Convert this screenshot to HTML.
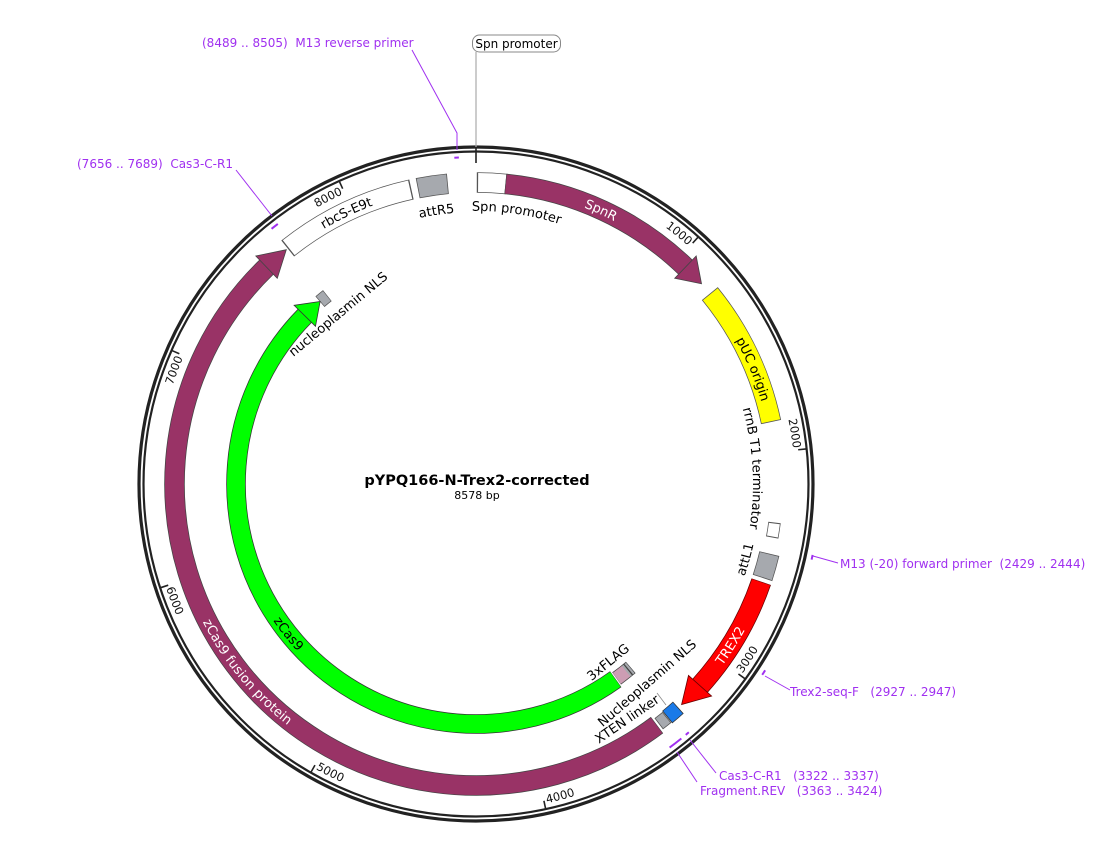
<!DOCTYPE html>
<html><head><meta charset="utf-8"><style>
html,body{margin:0;padding:0;background:#fff;overflow:hidden;width:1104px;height:862px;}
svg{display:block;font-family:"DejaVu Sans","Liberation Sans",sans-serif;}
text{white-space:pre;}
</style></head><body>
<svg width="1104" height="862" viewBox="0 0 1104 862" xmlns="http://www.w3.org/2000/svg">
<defs>
<path id="cw301" d="M174.5,484 A301.5,301.5 0 1 1 777.5,484 A301.5,301.5 0 1 1 174.5,484"/>
<path id="ccw301" d="M174.5,484 A301.5,301.5 0 1 0 777.5,484 A301.5,301.5 0 1 0 174.5,484"/>
<path id="ccw240" d="M236,484 A240,240 0 1 0 716,484 A240,240 0 1 0 236,484"/>
<path id="cw273" d="M203,484 A273,273 0 1 1 749,484 A273,273 0 1 1 203,484"/>
<path id="cw272" d="M204,484 A272,272 0 1 1 748,484 A272,272 0 1 1 204,484"/>
<path id="cw277" d="M199,484 A277,277 0 1 1 753,484 A277,277 0 1 1 199,484"/>
<path id="ccw284" d="M192,484 A284,284 0 1 0 760,484 A284,284 0 1 0 192,484"/>
<path id="cw319" d="M157,484 A319,319 0 1 1 795,484 A319,319 0 1 1 157,484"/>
<path id="ccw327" d="M149,484 A327,327 0 1 0 803,484 A327,327 0 1 0 149,484"/>
</defs>

<circle cx="476" cy="484" r="337" fill="none" stroke="#222" stroke-width="3.2"/>
<circle cx="476" cy="484" r="332.5" fill="none" stroke="#222" stroke-width="2.2"/>

<g stroke="#222" stroke-width="1.6">
<line x1="476" y1="147" x2="476" y2="163"/>
<g transform="rotate(41.97 476 484)"><line x1="476" y1="152" x2="476" y2="160"/></g>
<g transform="rotate(83.93 476 484)"><line x1="476" y1="152" x2="476" y2="160"/></g>
<g transform="rotate(125.9 476 484)"><line x1="476" y1="152" x2="476" y2="160"/></g>
<g transform="rotate(167.9 476 484)"><line x1="476" y1="152" x2="476" y2="160"/></g>
<g transform="rotate(209.8 476 484)"><line x1="476" y1="152" x2="476" y2="160"/></g>
<g transform="rotate(251.8 476 484)"><line x1="476" y1="152" x2="476" y2="160"/></g>
<g transform="rotate(293.7 476 484)"><line x1="476" y1="152" x2="476" y2="160"/></g>
<g transform="rotate(335.7 476 484)"><line x1="476" y1="152" x2="476" y2="160"/></g>
</g>
<g font-size="11.5" fill="#111">
<text><textPath href="#cw319" startOffset="363.6" text-anchor="end">8000</textPath></text>
<text><textPath href="#cw319" startOffset="732.7" text-anchor="end">1000</textPath></text>
<text><textPath href="#cw319" startOffset="966" text-anchor="end">2000</textPath></text>
<text><textPath href="#cw319" startOffset="129.7" text-anchor="end">7000</textPath></text>
<text><textPath href="#ccw327" startOffset="824.7">3000</textPath></text>
<text><textPath href="#ccw327" startOffset="585">4000</textPath></text>
<text><textPath href="#ccw327" startOffset="345.9">5000</textPath></text>
<text><textPath href="#ccw327" startOffset="106.2">6000</textPath></text>
</g>

<g fill="none">
<circle cx="476" cy="484" r="301.5" pathLength="360" stroke="#555" stroke-width="20.5" stroke-dasharray="5.7 400" transform="rotate(-89.85 476 484)"/>
<circle cx="476" cy="484" r="301.5" pathLength="360" stroke="#fff" stroke-width="19" stroke-dasharray="5.2 400" transform="rotate(-89.6 476 484)"/>
<circle cx="476" cy="484" r="301.5" pathLength="360" stroke="#444" stroke-width="20.5" stroke-dasharray="38.5 400" transform="rotate(-84.4 476 484)"/>
<circle cx="476" cy="484" r="301.5" pathLength="360" stroke="#993366" stroke-width="19" stroke-dasharray="38.6 400" transform="rotate(-84.3 476 484)"/>
<circle cx="476" cy="484" r="301.5" pathLength="360" stroke="#555" stroke-width="20.5" stroke-dasharray="27.3 400" transform="rotate(-39.15 476 484)"/>
<circle cx="476" cy="484" r="301.5" pathLength="360" stroke="#ffff00" stroke-width="19" stroke-dasharray="27 400" transform="rotate(-39 476 484)"/>
<circle cx="476" cy="484" r="301" pathLength="360" stroke="#555" stroke-width="12.5" stroke-dasharray="2.9 400" transform="rotate(7.35 476 484)"/>
<circle cx="476" cy="484" r="301" pathLength="360" stroke="#fff" stroke-width="11" stroke-dasharray="2.5 400" transform="rotate(7.55 476 484)"/>
<circle cx="476" cy="484" r="301.5" pathLength="360" stroke="#555" stroke-width="20.5" stroke-dasharray="4.8 400" transform="rotate(13.35 476 484)"/>
<circle cx="476" cy="484" r="301.5" pathLength="360" stroke="#a6a9ae" stroke-width="19" stroke-dasharray="4.5 400" transform="rotate(13.5 476 484)"/>
<circle cx="476" cy="484" r="301.5" pathLength="360" stroke="#600" stroke-width="20.5" stroke-dasharray="23.2 400" transform="rotate(18.9 476 484)"/>
<circle cx="476" cy="484" r="301.5" pathLength="360" stroke="#ff0000" stroke-width="19" stroke-dasharray="23.3 400" transform="rotate(19 476 484)"/>
<circle cx="476" cy="484" r="301.5" pathLength="360" stroke="#333" stroke-width="16" stroke-dasharray="2.8 400" transform="rotate(47.85 476 484)"/>
<circle cx="476" cy="484" r="301.5" pathLength="360" stroke="#1a7ae8" stroke-width="14.5" stroke-dasharray="2.5 400" transform="rotate(48 476 484)"/>
<circle cx="476" cy="484" r="301.5" pathLength="360" stroke="#555" stroke-width="14" stroke-dasharray="2 400" transform="rotate(50.7 476 484)"/>
<circle cx="476" cy="484" r="301.5" pathLength="360" stroke="#a6a9ae" stroke-width="12.5" stroke-dasharray="1.7 400" transform="rotate(50.85 476 484)"/>
<circle cx="476" cy="484" r="301.5" pathLength="360" stroke="#444" stroke-width="20.5" stroke-dasharray="173 400" transform="rotate(53.1 476 484)"/>
<circle cx="476" cy="484" r="301.5" pathLength="360" stroke="#993366" stroke-width="19" stroke-dasharray="173.1 400" transform="rotate(53.2 476 484)"/>
<circle cx="476" cy="484" r="301.5" pathLength="360" stroke="#555" stroke-width="20.5" stroke-dasharray="26.3 400" transform="rotate(231.35 476 484)"/>
<circle cx="476" cy="484" r="301.5" pathLength="360" stroke="#fff" stroke-width="19" stroke-dasharray="25.8 400" transform="rotate(231.6 476 484)"/>
<circle cx="476" cy="484" r="301.5" pathLength="360" stroke="#555" stroke-width="20.5" stroke-dasharray="5.8 400" transform="rotate(258.85 476 484)"/>
<circle cx="476" cy="484" r="301.5" pathLength="360" stroke="#a6a9ae" stroke-width="19" stroke-dasharray="5.5 400" transform="rotate(259 476 484)"/>
<circle cx="476" cy="484" r="240" pathLength="360" stroke="#333" stroke-width="19.5" stroke-dasharray="170.1 400" transform="rotate(54.4 476 484)"/>
<circle cx="476" cy="484" r="240" pathLength="360" stroke="#00ff00" stroke-width="18" stroke-dasharray="170.2 400" transform="rotate(54.5 476 484)"/>
<circle cx="476" cy="484" r="240" pathLength="360" stroke="#444" stroke-width="15" stroke-dasharray="4.3 400" transform="rotate(49.85 476 484)"/>
<circle cx="476" cy="484" r="240" pathLength="360" stroke="#cc9db3" stroke-width="13.5" stroke-dasharray="2.9 400" transform="rotate(51.2 476 484)"/>
<circle cx="476" cy="484" r="240" pathLength="360" stroke="#a6a9ae" stroke-width="13.5" stroke-dasharray="0.5 0.3 0.5 400" transform="rotate(50 476 484)"/>
<circle cx="476" cy="484" r="240" pathLength="360" stroke="#555" stroke-width="14" stroke-dasharray="2.3 400" transform="rotate(229.45 476 484)"/>
<circle cx="476" cy="484" r="240" pathLength="360" stroke="#a6a9ae" stroke-width="12.5" stroke-dasharray="2 400" transform="rotate(229.6 476 484)"/>
</g>
<polygon points="674.7,278.3 696.2,256 701.5,283.8" fill="#993366" stroke="#444" stroke-width="0.8"/>
<polygon points="688.5,675.4 711.6,696.1 681.6,704.5" fill="#ff0000" stroke="#600" stroke-width="0.8"/>
<polygon points="277.3,278.3 255.8,256 286.3,249.7" fill="#993366" stroke="#444" stroke-width="0.8"/>
<polygon points="315.5,326.3 294.1,305.3 320.1,301.5" fill="#00ff00" stroke="#333" stroke-width="0.8"/>

<g font-size="13">
<text fill="#fff" dy="0.35em"><textPath href="#cw301" startOffset="602.5" text-anchor="middle">SpnR</textPath></text>
<text fill="#000" dy="0.35em"><textPath href="#cw301" startOffset="828.3" text-anchor="middle">pUC origin</textPath></text>
<text fill="#000" dy="0.35em"><textPath href="#cw301" startOffset="338.9" text-anchor="middle">rbcS-E9t</textPath></text>
<text fill="#fff" dy="0.35em"><textPath href="#ccw301" startOffset="776.2" text-anchor="middle">TREX2</textPath></text>
<text fill="#fff" dy="0.35em"><textPath href="#ccw301" startOffset="207.3" text-anchor="middle">zCas9 fusion protein</textPath></text>
<text fill="#000" dy="0.35em"><textPath href="#ccw240" startOffset="161.7" text-anchor="middle">zCas9</textPath></text>
<text fill="#000"><textPath href="#cw273" startOffset="469.3" text-anchor="middle">Spn promoter</textPath></text>
<text fill="#000"><textPath href="#cw272" startOffset="387.9" text-anchor="middle">attR5</textPath></text>
<text fill="#000"><textPath href="#cw277" startOffset="854.3" text-anchor="middle">rrnB T1 terminator</textPath></text>
<text fill="#000"><textPath href="#ccw284" startOffset="814.4" text-anchor="middle">attL1</textPath></text>
<text transform="translate(338,314) rotate(-39.7)" text-anchor="middle" dy="0.35em">nucleoplasmin NLS</text>
<text transform="translate(608,662) rotate(-39)" text-anchor="middle" dy="0.35em">3xFLAG</text>
<text transform="translate(647,683) rotate(-40.9)" text-anchor="middle" dy="0.35em">Nucleoplasmin NLS</text>
<text transform="translate(627,719) rotate(-34.5)" text-anchor="middle" dy="0.35em">XTEN linker</text>
</g>
<line x1="657" y1="693" x2="666" y2="705" stroke="#888" stroke-width="0.8"/>

<text x="477" y="485" font-size="14.5" font-weight="bold" text-anchor="middle">pYPQ166-N-Trex2-corrected</text>
<text x="477" y="499" font-size="11" text-anchor="middle">8578 bp</text>

<line x1="476" y1="52" x2="476" y2="147" stroke="#aaa" stroke-width="1.2"/>
<rect x="472.5" y="35" width="88" height="17" rx="7" fill="#fff" stroke="#888" stroke-width="1"/>
<text x="516.5" y="48" font-size="12" text-anchor="middle">Spn promoter</text>

<g fill="none" stroke="#a030f0" stroke-width="1">
<circle cx="476" cy="484" r="327" pathLength="360" stroke-width="2" stroke-dasharray="0.8 400" transform="rotate(266.2 476 484)"/>
<polyline points="457,150 457,133 412,50"/>
<circle cx="476" cy="484" r="327" pathLength="360" stroke-width="2" stroke-dasharray="1.4 400" transform="rotate(231.3 476 484)"/>
<polyline points="272,216 236,170"/>
<circle cx="476" cy="484" r="344" pathLength="360" stroke-width="2" stroke-dasharray="0.8 400" transform="rotate(11.9 476 484)"/>
<polyline points="813,556 838,563"/>
<circle cx="476" cy="484" r="344" pathLength="360" stroke-width="2" stroke-dasharray="0.9 400" transform="rotate(32.8 476 484)"/>
<polyline points="765,676 790,690"/>
<circle cx="476" cy="484" r="327" pathLength="360" stroke-width="2" stroke-dasharray="0.7 400" transform="rotate(49.4 476 484)"/>
<polyline points="690,740 716,773"/>
<circle cx="476" cy="484" r="327" pathLength="360" stroke-width="2" stroke-dasharray="2.6 400" transform="rotate(51.1 476 484)"/>
<polyline points="677,752 697,782"/>
</g>
<g font-size="12" fill="#a030f0">
<text x="202" y="47">(8489 .. 8505)  M13 reverse primer</text>
<text x="77" y="168">(7656 .. 7689)  Cas3-C-R1</text>
<text x="840" y="568">M13 (-20) forward primer  (2429 .. 2444)</text>
<text x="790" y="696">Trex2-seq-F   (2927 .. 2947)</text>
<text x="719" y="780">Cas3-C-R1   (3322 .. 3337)</text>
<text x="700" y="795">Fragment.REV   (3363 .. 3424)</text>
</g>
</svg>
</body></html>
